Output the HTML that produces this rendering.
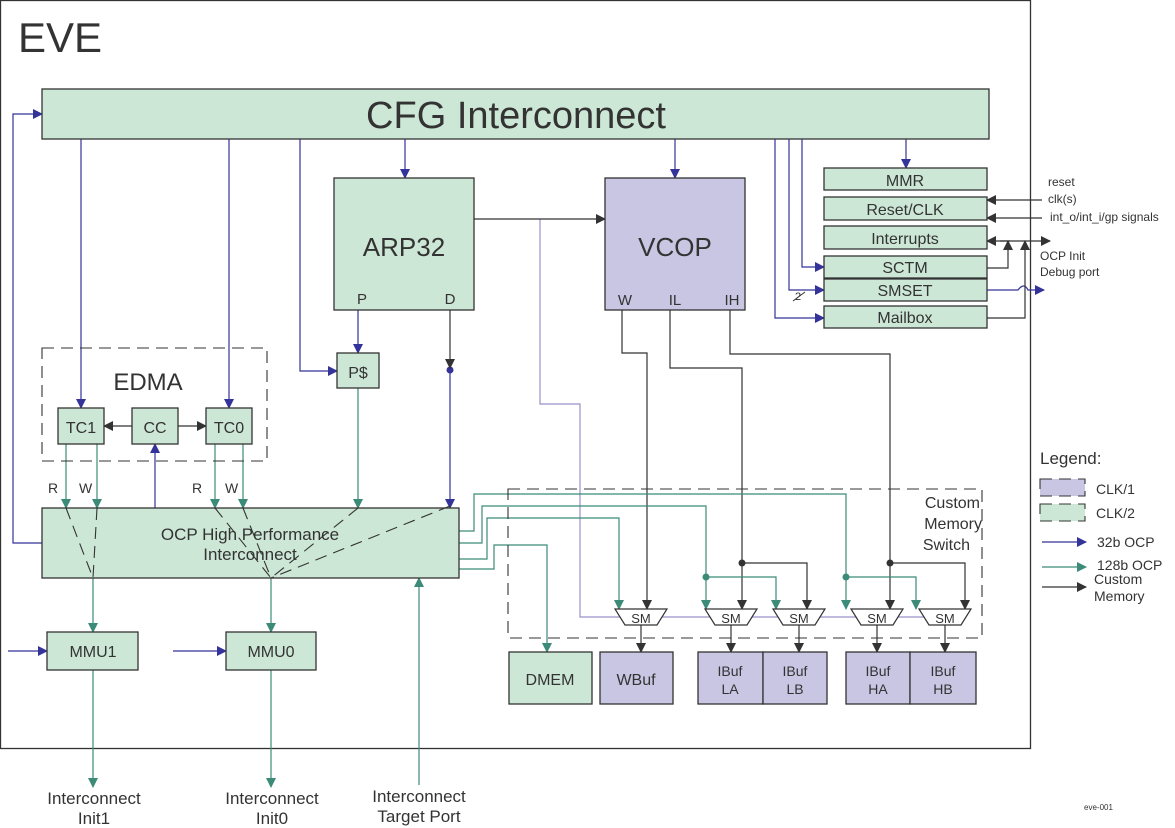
<!DOCTYPE html>
<html><head><meta charset="utf-8"><style>
html,body{margin:0;padding:0;background:#fff}
svg{display:block}
text{font-family:"Liberation Sans",sans-serif;fill:#333}
</style></head><body>
<svg width="1175" height="828" viewBox="0 0 1175 828" xmlns="http://www.w3.org/2000/svg">
<defs>
<marker id="ab" markerWidth="10" markerHeight="10" refX="9" refY="5" orient="auto" markerUnits="userSpaceOnUse"><path d="M0,0 L10,5 L0,10 z" fill="#333399"/></marker>
<marker id="at" markerWidth="10" markerHeight="10" refX="9" refY="5" orient="auto" markerUnits="userSpaceOnUse"><path d="M0,0 L10,5 L0,10 z" fill="#3c8a78"/></marker>
<marker id="ak" markerWidth="10" markerHeight="10" refX="9" refY="5" orient="auto" markerUnits="userSpaceOnUse"><path d="M0,0 L10,5 L0,10 z" fill="#333"/></marker>
</defs>
<g stroke="#333" stroke-width="1.3">
<rect x="0.5" y="0.5" width="1030" height="748" fill="#fff"/>
</g>
<text x="18" y="52" font-size="42">EVE</text>

<!-- blue lines from CFG -->
<g stroke="#333399" stroke-width="1.2" fill="none">
<polyline points="42,543 13,543 13,114 42,114" marker-end="url(#ab)"/>
<line x1="81" y1="139" x2="81" y2="408" marker-end="url(#ab)"/>
<line x1="229" y1="139" x2="229" y2="408" marker-end="url(#ab)"/>
<polyline points="300,139 300,371 337,371" marker-end="url(#ab)"/>
<line x1="405" y1="139" x2="405" y2="178" marker-end="url(#ab)"/>
<line x1="675" y1="139" x2="675" y2="178" marker-end="url(#ab)"/>
<line x1="906" y1="139" x2="906" y2="168" marker-end="url(#ab)"/>
<polyline points="775,139 775,318 824,318" marker-end="url(#ab)"/>
<polyline points="789,139 789,290 824,290" marker-end="url(#ab)"/>
<polyline points="802,139 802,267 824,267" marker-end="url(#ab)"/>
<line x1="358" y1="310" x2="358" y2="353" marker-end="url(#ab)"/>
<line x1="450" y1="370" x2="450" y2="508" marker-end="url(#ab)"/>
<line x1="155" y1="508" x2="155" y2="444" marker-end="url(#ab)"/>
<line x1="8" y1="651" x2="47" y2="651" marker-end="url(#ab)"/>
<line x1="173" y1="651" x2="226" y2="651" marker-end="url(#ab)"/>
<path d="M987,290 L1018,290 Q1024,282 1028,290 L1044,290" marker-end="url(#ab)"/>
<line x1="1042" y1="542" x2="1086" y2="542" marker-end="url(#ab)"/>
</g>
<circle cx="450" cy="370" r="3.5" fill="#333399"/>
<text x="795" y="300" font-size="11">2</text>
<line x1="793" y1="301" x2="805" y2="292" stroke="#333" stroke-width="1"/>

<!-- purple thin line -->
<polyline points="540,219 540,404 580,404 580,617 965,617" fill="none" stroke="#9a90cc" stroke-width="1.2"/>

<!-- black lines -->
<g stroke="#333" stroke-width="1.2" fill="none">
<line x1="474" y1="219" x2="605" y2="219" marker-end="url(#ak)"/>
<line x1="450" y1="310" x2="450" y2="368" marker-end="url(#ak)"/>
<line x1="132" y1="426" x2="104" y2="426" marker-end="url(#ak)"/>
<line x1="178" y1="426" x2="206" y2="426" marker-end="url(#ak)"/>
<polyline points="622,310 622,353 647,353 647,609" marker-end="url(#ak)"/>
<polyline points="670,310 670,368 742,368 742,609" marker-end="url(#ak)"/>
<polyline points="742,563 807,563 807,609" marker-end="url(#ak)"/>
<polyline points="730,310 730,354 890,354 890,609" marker-end="url(#ak)"/>
<polyline points="890,563 965,563 965,609" marker-end="url(#ak)"/>
<line x1="641" y1="625" x2="641" y2="652" marker-end="url(#ak)"/>
<line x1="731" y1="625" x2="731" y2="652" marker-end="url(#ak)"/>
<line x1="799" y1="625" x2="799" y2="652" marker-end="url(#ak)"/>
<line x1="877" y1="625" x2="877" y2="652" marker-end="url(#ak)"/>
<line x1="945" y1="625" x2="945" y2="652" marker-end="url(#ak)"/>
<line x1="1042" y1="200" x2="987" y2="200" marker-end="url(#ak)"/>
<line x1="1042" y1="218" x2="987" y2="218" marker-end="url(#ak)"/>
<line x1="1010" y1="241" x2="987" y2="241" marker-end="url(#ak)"/>
<line x1="1000" y1="241" x2="1050" y2="241" marker-end="url(#ak)"/>
<polyline points="987,268 1008,268 1008,241" marker-end="url(#ak)"/>
<polyline points="987,318 1025,318 1025,241" marker-end="url(#ak)"/>
<line x1="1042" y1="587" x2="1086" y2="587" marker-end="url(#ak)"/>
</g>
<circle cx="742" cy="563" r="3.5" fill="#333"/>
<circle cx="890" cy="563" r="3.5" fill="#333"/>

<!-- teal lines -->
<g stroke="#3c8a78" stroke-width="1.2" fill="none">
<line x1="66" y1="444" x2="66" y2="508" marker-end="url(#at)"/>
<line x1="97" y1="444" x2="97" y2="508" marker-end="url(#at)"/>
<line x1="215" y1="444" x2="215" y2="508" marker-end="url(#at)"/>
<line x1="243" y1="444" x2="243" y2="508" marker-end="url(#at)"/>
<line x1="358" y1="388" x2="358" y2="508" marker-end="url(#at)"/>
<line x1="93" y1="578" x2="93" y2="632" marker-end="url(#at)"/>
<line x1="271" y1="578" x2="271" y2="632" marker-end="url(#at)"/>
<line x1="93" y1="670" x2="93" y2="787" marker-end="url(#at)"/>
<line x1="271" y1="670" x2="271" y2="787" marker-end="url(#at)"/>
<line x1="419" y1="785" x2="419" y2="578" marker-end="url(#at)"/>
<polyline points="459,531 474,531 474,494 846,494 846,609" marker-end="url(#at)"/>
<polyline points="846,577 916,577 916,609" marker-end="url(#at)"/>
<polyline points="459,543 482,543 482,506 706,506 706,609" marker-end="url(#at)"/>
<polyline points="706,577 776,577 776,609" marker-end="url(#at)"/>
<polyline points="459,559 487,559 487,518 619,518 619,609" marker-end="url(#at)"/>
<polyline points="459,569 494,569 494,545 547,545 547,652" marker-end="url(#at)"/>
<line x1="1042" y1="567" x2="1086" y2="567" marker-end="url(#at)"/>
</g>
<circle cx="706" cy="577" r="3.5" fill="#3c8a78"/>
<circle cx="846" cy="577" r="3.5" fill="#3c8a78"/>

<!-- boxes -->
<g stroke="#333" stroke-width="1.3">
<rect x="42" y="89" width="947" height="50" fill="#cde7d6"/>
<rect x="334" y="178" width="140" height="132" fill="#cde7d6"/>
<rect x="605" y="178" width="140" height="132" fill="#c8c6e2"/>
<rect x="824" y="168" width="163" height="22" fill="#cde7d6"/>
<rect x="824" y="197" width="163" height="23" fill="#cde7d6"/>
<rect x="824" y="226" width="163" height="23" fill="#cde7d6"/>
<rect x="824" y="256" width="163" height="22" fill="#cde7d6"/>
<rect x="824" y="279" width="163" height="22" fill="#cde7d6"/>
<rect x="824" y="306" width="163" height="22" fill="#cde7d6"/>
<rect x="337" y="353" width="42" height="35" fill="#cde7d6"/>
<rect x="58" y="408" width="46" height="36" fill="#cde7d6"/>
<rect x="132" y="408" width="46" height="36" fill="#cde7d6"/>
<rect x="206" y="408" width="46" height="36" fill="#cde7d6"/>
<rect x="42" y="508" width="417" height="70" fill="#cde7d6"/>
<rect x="47" y="632" width="91" height="38" fill="#cde7d6"/>
<rect x="226" y="632" width="90" height="38" fill="#cde7d6"/>
<rect x="509" y="652" width="83" height="52" fill="#cde7d6"/>
<rect x="600" y="652" width="73" height="52" fill="#c8c6e2"/>
<rect x="698" y="652" width="65" height="52" fill="#c8c6e2"/>
<rect x="763" y="652" width="64" height="52" fill="#c8c6e2"/>
<rect x="846" y="652" width="64" height="52" fill="#c8c6e2"/>
<rect x="910" y="652" width="66" height="52" fill="#c8c6e2"/>
</g>
<!-- SM trapezoids -->
<g stroke="#333" stroke-width="1.2" fill="#fff">
<polygon points="615,609 667,609 657,625 625,625"/>
<polygon points="705,609 757,609 747,625 715,625"/>
<polygon points="773,609 825,609 815,625 783,625"/>
<polygon points="851,609 903,609 893,625 861,625"/>
<polygon points="919,609 971,609 961,625 929,625"/>
</g>
<g font-size="13" text-anchor="middle">
<text x="641" y="623">SM</text><text x="731" y="623">SM</text><text x="799" y="623">SM</text><text x="877" y="623">SM</text><text x="945" y="623">SM</text>
</g>
<!-- dashed -->
<g stroke="#333" stroke-width="1.1" fill="none" stroke-dasharray="12,7">
<rect x="42" y="348" width="225" height="113"/>
<rect x="508" y="489" width="474" height="149"/>
<line x1="66" y1="508" x2="93" y2="578"/>
<line x1="97" y1="508" x2="93" y2="578"/>
<line x1="215" y1="508" x2="271" y2="578"/>
<line x1="243" y1="508" x2="271" y2="578"/>
<line x1="358" y1="508" x2="271" y2="578"/>
<line x1="450" y1="506" x2="271" y2="578"/>
</g>
<!-- texts -->
<g text-anchor="middle">
<text x="516" y="128" font-size="38">CFG Interconnect</text>
<text x="404" y="256" font-size="26">ARP32</text>
<text x="675" y="256" font-size="26">VCOP</text>
<text x="362" y="304" font-size="15">P</text>
<text x="450" y="304" font-size="15">D</text>
<text x="625" y="305" font-size="15">W</text>
<text x="675" y="305" font-size="15">IL</text>
<text x="732" y="305" font-size="15">IH</text>
<text x="905" y="186" font-size="16">MMR</text>
<text x="905" y="215" font-size="16">Reset/CLK</text>
<text x="905" y="244" font-size="16">Interrupts</text>
<text x="905" y="273" font-size="16">SCTM</text>
<text x="905" y="296" font-size="16">SMSET</text>
<text x="905" y="323" font-size="16">Mailbox</text>
<text x="358" y="378" font-size="16">P$</text>
<text x="148" y="390" font-size="24">EDMA</text>
<text x="81" y="433" font-size="16">TC1</text>
<text x="155" y="433" font-size="16">CC</text>
<text x="229" y="433" font-size="16">TC0</text>
<text x="250" y="540" font-size="17">OCP High Performance</text>
<text x="250" y="560" font-size="17">Interconnect</text>
<text x="93" y="657" font-size="16">MMU1</text>
<text x="271" y="657" font-size="16">MMU0</text>
<text x="550" y="685" font-size="16">DMEM</text>
<text x="636" y="685" font-size="16">WBuf</text>
<text x="730" y="676" font-size="14">IBuf</text><text x="730" y="694" font-size="14">LA</text>
<text x="795" y="676" font-size="14">IBuf</text><text x="795" y="694" font-size="14">LB</text>
<text x="878" y="676" font-size="14">IBuf</text><text x="878" y="694" font-size="14">HA</text>
<text x="943" y="676" font-size="14">IBuf</text><text x="943" y="694" font-size="14">HB</text>
<text x="94" y="804" font-size="17">Interconnect</text><text x="94" y="824" font-size="17">Init1</text>
<text x="272" y="804" font-size="17">Interconnect</text><text x="272" y="824" font-size="17">Init0</text>
<text x="419" y="802" font-size="17">Interconnect</text><text x="419" y="822" font-size="17">Target Port</text>
</g>
<g font-size="14">
<text x="48" y="493">R</text><text x="79" y="493">W</text>
<text x="192" y="493">R</text><text x="225" y="493">W</text>
</g>
<g font-size="16" text-anchor="end">
<text x="980" y="508">Custom</text><text x="982" y="529">Memory</text><text x="970" y="550">Switch</text>
</g>
<g font-size="12">
<text x="1048" y="186">reset</text>
<text x="1048" y="203">clk(s)</text>
<text x="1050" y="221">int_o/int_i/gp signals</text>
<text x="1040" y="260">OCP Init</text>
<text x="1040" y="276">Debug port</text>
</g>
<text x="1040" y="464" font-size="17">Legend:</text>
<rect x="1040" y="479" width="45" height="17" fill="#c8c6e2"/>
<rect x="1040" y="504" width="45" height="17" fill="#cde7d6"/>
<g stroke="#333" stroke-width="1.1" fill="none" stroke-dasharray="12,7">
<rect x="1040" y="479" width="45" height="17"/>
<rect x="1040" y="504" width="45" height="17"/>
</g>
<g font-size="14">
<text x="1096" y="494">CLK/1</text>
<text x="1096" y="518">CLK/2</text>
<text x="1097" y="547">32b OCP</text>
<text x="1097" y="570">128b OCP</text>
<text x="1094" y="584">Custom</text>
<text x="1094" y="601">Memory</text>
</g>
<text x="1084" y="810" font-size="8">eve-001</text>
</svg>
</body></html>
